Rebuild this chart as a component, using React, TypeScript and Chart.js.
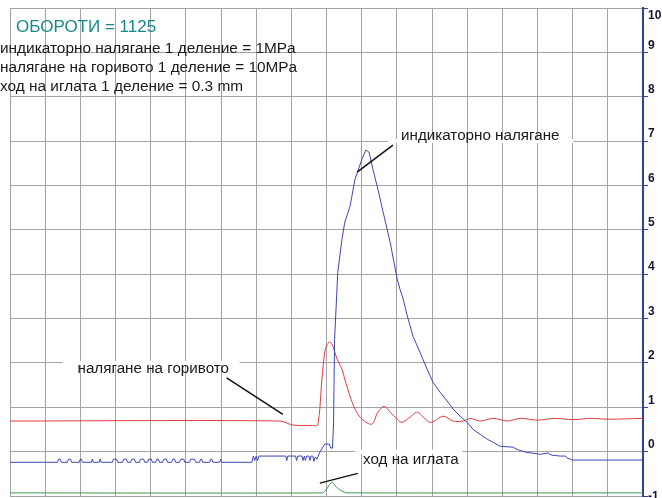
import React, { useEffect, useRef } from 'react';
import { Chart, registerables } from 'chart.js';

Chart.register(...registerables);

// x: grid divisions (0..18), y: divisions on the right axis (-1..10)
const xMin = 0;
const xMax = 18;
const yMin = -1;
const yMax = 10;

const rpmTitle = 'ОБОРОТИ = 1125';
const scaleNotes = [
  'индикаторно налягане 1 деление = 1MPa',
  'налягане на горивото 1 деление = 10MPa',
  'ход на иглата 1 деление = 0.3 mm',
];

// индикаторно налягане (blue)
const indicatorPressure: [number, number][] = [
  [0, -0.24], [1.35, -0.24], [1.38, -0.17], [1.43, -0.17], [1.46, -0.24],
  [1.63, -0.24], [1.66, -0.17], [1.72, -0.17], [1.75, -0.24],
  [1.97, -0.24], [2.0, -0.17], [2.03, -0.17], [2.06, -0.24],
  [2.32, -0.24], [2.34, -0.17], [2.37, -0.24],
  [2.54, -0.24], [2.56, -0.17], [2.6, -0.24],
  [2.91, -0.24], [2.94, -0.17], [3.03, -0.17], [3.06, -0.24],
  [3.2, -0.24], [3.23, -0.17], [3.31, -0.17], [3.34, -0.24],
  [3.43, -0.24], [3.46, -0.17], [3.54, -0.17], [3.57, -0.24],
  [3.68, -0.24], [3.71, -0.17], [3.8, -0.17], [3.83, -0.24],
  [3.91, -0.24], [3.94, -0.17], [4.02, -0.17], [4.05, -0.24],
  [4.14, -0.24], [4.17, -0.17], [4.22, -0.17], [4.25, -0.24],
  [4.34, -0.24], [4.37, -0.17], [4.45, -0.17], [4.48, -0.24],
  [4.6, -0.24], [4.63, -0.17], [4.68, -0.17], [4.71, -0.24],
  [4.82, -0.24], [4.85, -0.17], [4.94, -0.17], [4.97, -0.24],
  [5.11, -0.24], [5.14, -0.17], [5.25, -0.17], [5.28, -0.24],
  [5.39, -0.24], [5.42, -0.17], [5.45, -0.17], [5.48, -0.24],
  [5.68, -0.24], [5.71, -0.17], [5.74, -0.17], [5.77, -0.24],
  [5.96, -0.24], [5.99, -0.17], [6.02, -0.24],
  [6.88, -0.24], [6.92, -0.1], [6.96, -0.2], [7.0, -0.1], [7.04, -0.2], [7.08, -0.1],
  [7.84, -0.1], [7.87, -0.2], [7.9, -0.1],
  [8.12, -0.1], [8.15, -0.2], [8.18, -0.1],
  [8.3, -0.1], [8.33, -0.2], [8.37, -0.1], [8.4, -0.2], [8.44, -0.1],
  [8.5, -0.1], [8.53, -0.2], [8.56, -0.1],
  [8.61, -0.1], [8.64, -0.22], [8.68, -0.12],
  [8.73, -0.17], [8.81, -0.01], [8.95, 0.17], [9.08, 0.17], [9.12, 0.08], [9.17, 0.08],
  [9.2, 0.6], [9.23, 2.53], [9.32, 4.04], [9.44, 4.79], [9.52, 5.17], [9.67, 5.53],
  [9.81, 6.14], [9.89, 6.32], [10.01, 6.6], [10.12, 6.8], [10.21, 6.75], [10.32, 6.37],
  [10.46, 5.92], [10.61, 5.4], [10.81, 4.72], [11.01, 3.89], [11.09, 3.66], [11.18, 3.44],
  [11.29, 3.08], [11.46, 2.6], [11.66, 2.24], [11.86, 1.86], [12.03, 1.56], [12.23, 1.34],
  [12.43, 1.14], [12.6, 0.96], [12.8, 0.8], [13.0, 0.66], [13.17, 0.5], [13.37, 0.39],
  [13.57, 0.28], [13.74, 0.21], [13.94, 0.12], [14.31, 0.1], [14.42, 0.05], [14.65, -0.01],
  [15.08, -0.06], [15.3, -0.03], [15.4, -0.08], [15.65, -0.1], [15.8, -0.1], [15.85, -0.15],
  [15.93, -0.17], [16.0, -0.19], [18, -0.19],
];

// налягане на горивото (red)
const fuelPressure: [number, number][] = [
  [0, 0.69], [7.67, 0.69], [8.04, 0.6], [8.6, 0.59], [8.75, 0.6], [8.87, 1.63],
  [8.95, 2.24], [9.02, 2.42], [9.1, 2.47], [9.18, 2.38], [9.3, 2.09], [9.44, 1.86],
  [9.52, 1.63], [9.67, 1.25], [9.81, 0.96], [10.01, 0.73], [10.29, 0.62], [10.46, 0.89],
  [10.64, 1.02], [10.81, 0.89], [11.01, 0.73], [11.15, 0.66], [11.38, 0.78], [11.58, 0.89],
  [11.95, 0.66], [12.32, 0.8], [12.6, 0.69], [12.89, 0.69], [13.09, 0.75], [13.37, 0.69],
  [13.74, 0.75], [14.14, 0.69], [14.51, 0.75], [15.0, 0.71], [15.5, 0.75], [16.0, 0.72],
  [16.5, 0.75], [17.0, 0.73], [18, 0.75],
];

// ход на иглата (green)
const needleLift: [number, number][] = [
  [0, -0.93], [8.9, -0.93], [8.95, -0.9], [9.04, -0.8], [9.15, -0.69], [9.23, -0.75],
  [9.32, -0.83], [9.52, -0.92], [9.7, -0.93], [18, -0.93],
];

// in-plot labels: text anchor, leader line, gap cut in a horizontal grid line
const plotLabels = [
  { text: 'индикаторно налягане', x: 11.12, y: 7.11, line: [[9.87, 6.3], [10.89, 6.91]], gapY: 7, gap: [10.75, 16.02] },
  { text: 'налягане на горивото', x: 1.92, y: 1.86, line: [[6.16, 1.66], [7.76, 0.84]], gapY: 2, gap: [1.49, 6.53] },
  { text: 'ход на иглата', x: 10.04, y: -0.19, line: [[8.81, -0.71], [9.89, -0.49]], gapY: 0, gap: [9.81, 12.86] },
];

const toXY = (arr: [number, number][]) => arr.map(([x, y]) => ({ x, y }));

const FONT = '"Liberation Sans", Arial, sans-serif';

export default function App() {
  const ref = useRef<HTMLCanvasElement | null>(null);

  useEffect(() => {
    if (!ref.current) return;

    const labelsPlugin = {
      id: 'labels',
      beforeDatasetsDraw(chart: any) {
        const { ctx, scales } = chart;
        const xs = scales.x, ys = scales.y;
        ctx.save();
        ctx.fillStyle = '#ffffff';
        for (const l of plotLabels) {
          const x1 = xs.getPixelForValue(l.gap[0]);
          const x2 = xs.getPixelForValue(l.gap[1]);
          const y = ys.getPixelForValue(l.gapY);
          ctx.fillRect(x1, y - 2, x2 - x1, 4);
        }
        ctx.restore();
      },
      afterDraw(chart: any) {
        const { ctx, scales } = chart;
        const xs = scales.x, ys = scales.y;
        ctx.save();
        ctx.strokeStyle = '#111111';
        ctx.lineWidth = 1.5;
        for (const l of plotLabels) {
          ctx.beginPath();
          ctx.moveTo(xs.getPixelForValue(l.line[0][0]), ys.getPixelForValue(l.line[0][1]));
          ctx.lineTo(xs.getPixelForValue(l.line[1][0]), ys.getPixelForValue(l.line[1][1]));
          ctx.stroke();
        }
        ctx.fillStyle = '#1a1a1a';
        ctx.font = `15.2px ${FONT}`;
        ctx.textBaseline = 'middle';
        ctx.textAlign = 'left';
        for (const l of plotLabels) {
          ctx.fillText(l.text, xs.getPixelForValue(l.x), ys.getPixelForValue(l.y));
        }
        ctx.fillStyle = '#17898b';
        ctx.font = `17px ${FONT}`;
        ctx.fillText(rpmTitle, 16, 27);
        ctx.fillStyle = '#1a1a1a';
        ctx.font = `15.4px ${FONT}`;
        scaleNotes.forEach((t, i) => ctx.fillText(t, 0, 49 + i * 18.7));
        ctx.restore();
      },
    };

    const chart = new Chart(ref.current, {
      type: 'line',
      data: {
        datasets: [
          { label: 'индикаторно налягане', data: toXY(indicatorPressure), borderColor: '#3d45b5', borderWidth: 1, pointRadius: 0, tension: 0 },
          { label: 'налягане на горивото', data: toXY(fuelPressure), borderColor: '#e03a3e', borderWidth: 1, pointRadius: 0, tension: 0.3 },
          { label: 'ход на иглата', data: toXY(needleLift), borderColor: '#3a9a4a', borderWidth: 1, pointRadius: 0, tension: 0.3 },
        ],
      },
      options: {
        animation: false,
        responsive: true,
        maintainAspectRatio: false,
        devicePixelRatio: 1,
        layout: { padding: { left: 10, top: 8, right: 0, bottom: 2 } },
        plugins: { legend: { display: false }, tooltip: { enabled: false }, title: { display: false } },
        scales: {
          x: {
            type: 'linear',
            min: xMin,
            max: xMax,
            ticks: { stepSize: 1, display: false },
            grid: { color: '#a3a3a3', lineWidth: 1, drawTicks: false },
            border: { display: false },
            afterFit: (s: any) => { s.height = 0; s.paddingLeft = 0; s.paddingRight = 0; },
          },
          y: {
            type: 'linear',
            position: 'right',
            min: yMin,
            max: yMax,
            ticks: {
              stepSize: 1,
              autoSkip: false,
              padding: 0,
              labelOffset: -7,
              color: '#141430',
              font: { family: FONT, size: 12, weight: 'bold' },
              callback: (v: any) => (v === yMax ? ['', '', String(v)] : v === yMin ? ['', String(v)] : String(v)),
            },
            grid: { color: '#a3a3a3', lineWidth: 1, tickColor: '#2f3fa0', tickLength: 5, tickWidth: 1 },
            border: { color: '#2f3fa0', width: 2 },
            afterFit: (s: any) => { s.width = 19; s.paddingTop = 0; s.paddingBottom = 0; },
          },
        },
      },
      plugins: [labelsPlugin],
    } as any);

    return () => chart.destroy();
  }, []);

  return (
    <div style={{ position: 'fixed', left: 0, top: 0, width: 662, height: 498, background: '#ffffff' }}>
      <canvas ref={ref} />
    </div>
  );
}
